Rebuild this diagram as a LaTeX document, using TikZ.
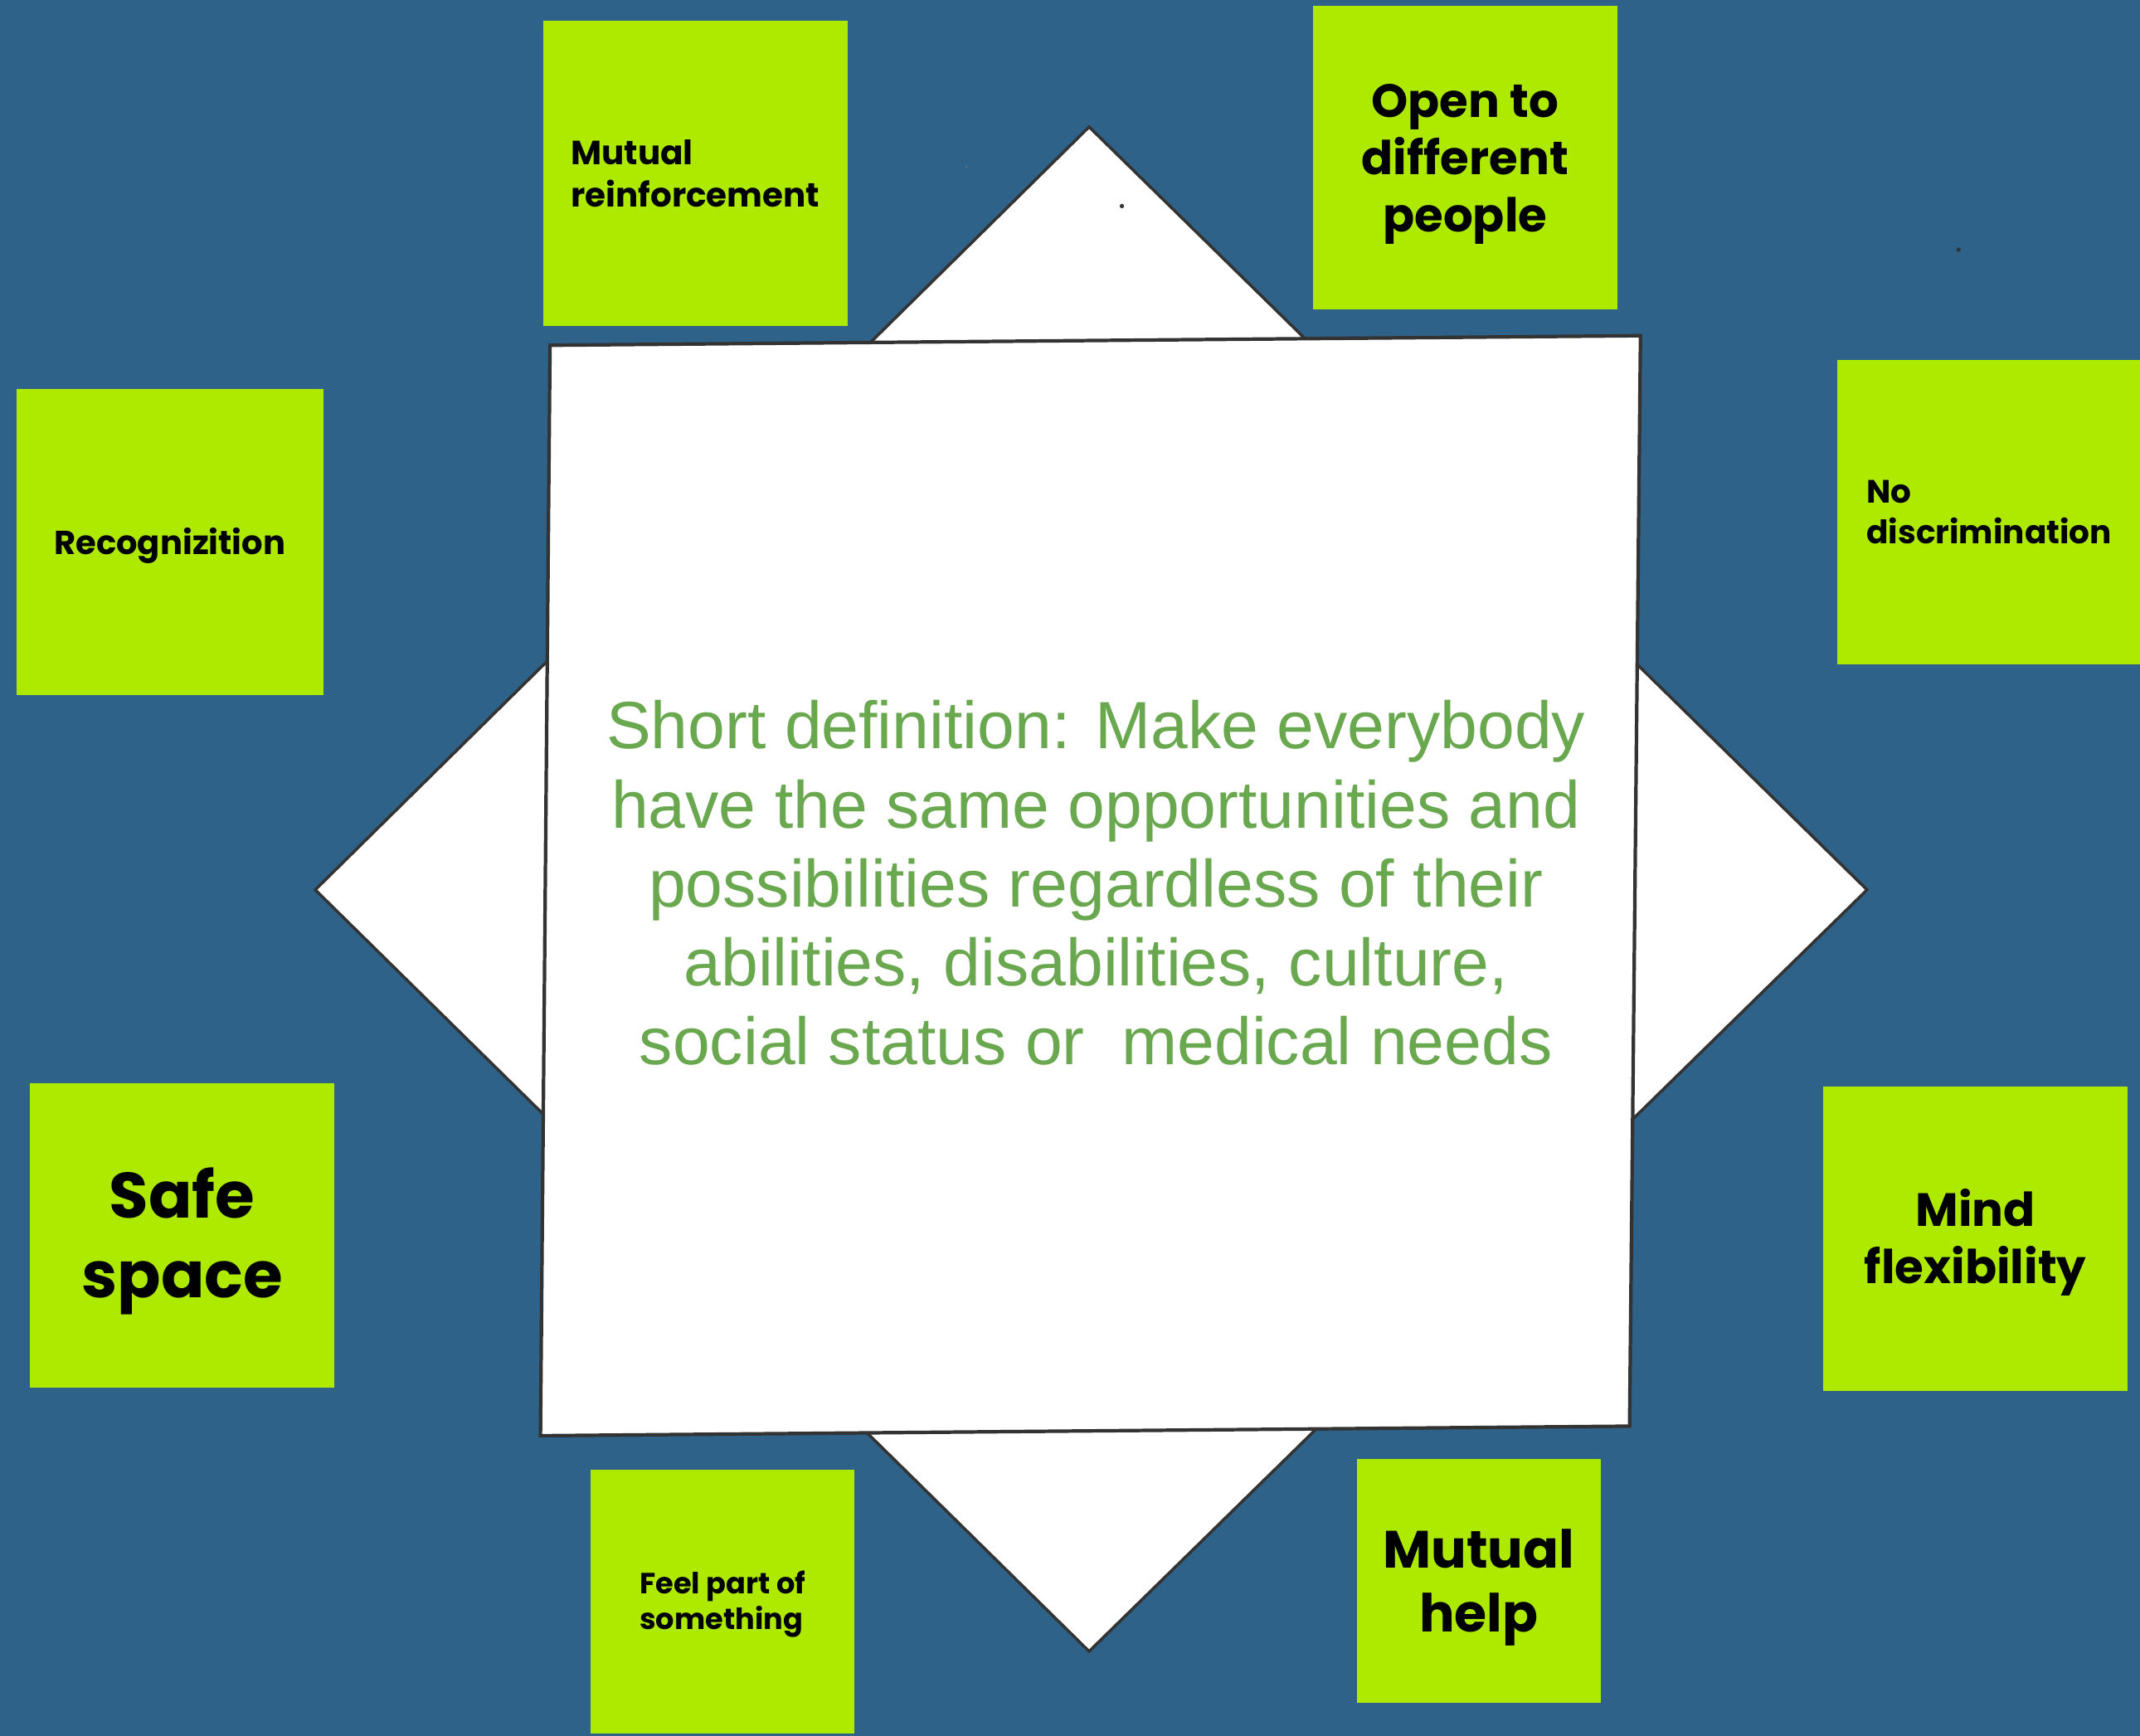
\documentclass[tikz,border=0pt]{standalone}
\usepackage{fontspec}
\setmainfont{Liberation Sans}
\newfontfamily\popfont{Poppins}
\newlength\pxu
\setlength\pxu{0.016454cm}
\definecolor{bg}{HTML}{2E6288}
\definecolor{lime}{HTML}{AEEA00}
\definecolor{deftext}{HTML}{6AA84F}
\definecolor{edgegray}{HTML}{333333}
\tikzset{
  gbox/.style 2 args={fill=lime, inner sep=0pt, minimum width=#1\pxu, minimum height=#2\pxu},
  gtext/.style={text=black, inner sep=0pt, yshift=-#1\pxu},
  paper/.style={fill=white, draw=edgegray, line width=1pt, line join=miter},
}
\begin{document}
\begin{tikzpicture}[x=0.016454cm,y=-0.016454cm]
\fill[bg] (0,0) rectangle (1568,1272);
\useasboundingbox (0,0) rectangle (1568,1272);
% diamond behind
\draw[paper] (798,93) -- (1368,652) -- (798,1210) -- (231,652) -- cycle;
% central square, slightly rotated
\draw[paper, line width=1.2pt] (403,253) -- (1202,246) -- (1194,1045) -- (396,1052) -- cycle;
\node[text=deftext, align=center, inner sep=0pt, font=\fontsize{22.9}{27.1}\selectfont] (def) at (803,647)
  {Short definition: Make everybody\\have the same opportunities and\\possibilities regardless of their\\abilities, disabilities, culture,\\social status or\ \ medical needs};
% specks
\fill[edgegray] (822,151) circle (1.6);
\fill[edgegray] (1435,183) circle (1.6);
\fill[edgegray!70] (708,122) circle (0.9);
% green boxes
\node[gbox={223}{224}] (mr) at (509.5,127) {};
\node[gtext=0, align=left, font=\popfont\bfseries\fontsize{11.5}{14.5}\selectfont] (mrt) at (mr.center) {Mutual\\reinforcement};
\node[gbox={223}{223}] (open) at (1073.5,115.5) {};
\node[gtext=5, align=center, font=\popfont\bfseries\fontsize{16}{19.6}\selectfont] (opent) at (open.center) {Open to\\different\\people};
\node[gbox={225}{224}] (recog) at (124.5,397) {};
\node[gtext=3, align=center, font=\popfont\bfseries\fontsize{11.4}{14}\selectfont] (recogt) at (recog.center) {Recognizition};
\node[gbox={223}{223}] (nodisc) at (1457.5,375.5) {};
\node[gtext=0, align=left, font=\popfont\bfseries\fontsize{11.1}{14}\selectfont] (nodisct) at (nodisc.center) {No\\discrimination};
\node[gbox={223}{223}] (safe) at (133.5,905.5) {};
\node[gtext=4, align=center, font=\popfont\bfseries\fontsize{22}{27.5}\selectfont] (safet) at (safe.center) {Safe\\space};
\node[gbox={223}{223}] (mind) at (1447.5,907.5) {};
\node[gtext=3, align=center, font=\popfont\bfseries\fontsize{16}{19.6}\selectfont] (mindt) at (mind.center) {Mind\\flexibility};
\node[gbox={193}{193}] (feel) at (529.5,1173.5) {};
\node[gtext=2, align=left, font=\popfont\bfseries\fontsize{10}{12.1}\selectfont] (feelt) at (feel.center) {Feel part of\\something};
\node[gbox={179}{179}] (help) at (1083.5,1158.5) {};
\node[gtext=5, align=center, font=\popfont\bfseries\fontsize{18}{21.9}\selectfont] (helpt) at (help.center) {Mutual\\help};
\end{tikzpicture}
\end{document}
